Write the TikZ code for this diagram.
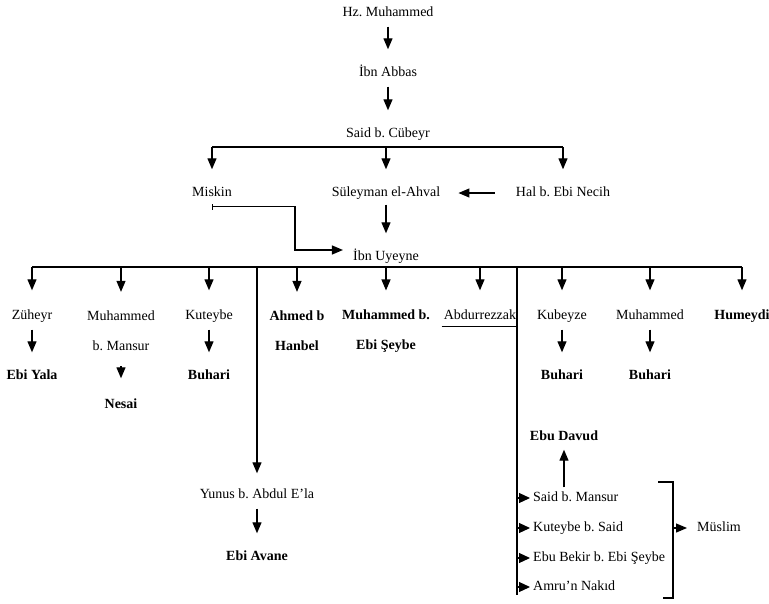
\documentclass[tikz,border=0pt]{standalone}
\usepackage{fontspec}
\setmainfont{Liberation Serif}
\usetikzlibrary{arrows.meta}
\frenchspacing

\begin{document}
\begin{tikzpicture}[x=1pt,y=-1pt,%%
  nameStyle/.style={font=\fontsize{14}{17}\selectfont,inner sep=2pt,text height=10pt,text depth=3pt},%%
  boldStyle/.style={nameStyle,font=\fontsize{14}{17}\selectfont\bfseries},%%
  twoLineStyle/.style={font=\fontsize{14}{30}\selectfont,align=center,inner sep=2pt},%%
  twoLineBoldStyle/.style={twoLineStyle,font=\fontsize{14}{30}\selectfont\bfseries},%%
  lineStyle/.style={-,line width=1.2pt},%%
  arrowStyle/.style={lineStyle,-{Triangle[length=11pt,width=9pt]},shorten <=5pt,shorten >=15pt},%%
  tipStyle/.style={lineStyle,-{Triangle[length=11pt,width=10pt]},shorten >=1pt}%%
]
%%
\pgfmathsetmacro{\rowA}{316}
\pgfmathsetmacro{\rowB}{376}
\pgfmathsetmacro{\listX}{531}
%%
\coordinate (lowerLeft) at (0,0);
\coordinate (upperRight) at (769,603);
\useasboundingbox (lowerLeft) rectangle (upperRight);
%%
%% The chain from the top.
\node[nameStyle] (hzMuhammed) at (388,13) {Hz. Muhammed};
\node[nameStyle] (ibnAbbas) at (388,73) {İbn Abbas};
\node[nameStyle] (saidCubeyr) at (388,134) {Said b. Cübeyr};
\draw[arrowStyle] (hzMuhammed) -- (ibnAbbas);
\draw[arrowStyle] (ibnAbbas) -- (saidCubeyr);
%% Students of Said b. Cübeyr.
\coordinate (topBus) at (388,147);
\node[nameStyle] (miskin) at (212,193) {Miskin};
\node[nameStyle] (suleyman) at (386,193) {Süleyman el-Ahval};
\node[nameStyle] (halNecih) at (563,193) {Hal b. Ebi Necih};
\draw[lineStyle] (miskin |- topBus) -- (halNecih |- topBus);
\foreach \n in {miskin,suleyman,halNecih}
  \draw[arrowStyle,shorten <=0pt] (\n |- topBus) -- (\n);
\draw[arrowStyle,shorten <=19pt,shorten >=16pt] (halNecih) -- (suleyman);
%% Ibn Uyeyne.
\node[nameStyle] (ibnUyeyne) at (386,257) {İbn Uyeyne};
\coordinate (miskinBend) at (295,250);
\draw[lineStyle,{Bar[width=6pt]}-{Triangle[length=11pt,width=9pt]},shorten >=8pt]
  ([yshift=-5pt]miskin.south) -| (miskinBend) -- (miskinBend -| ibnUyeyne.west);
\draw[arrowStyle,shorten <=3pt] (suleyman) -- (ibnUyeyne);
%%
%% Students of Ibn Uyeyne.
\coordinate (bottomBus) at (385,267);
\node[nameStyle] (zuheyr) at (32,\rowA) {Züheyr};
\node[twoLineStyle] (muhammedMansur) at (121,331) {Muhammed\\b. Mansur};
\node[nameStyle] (kuteybe) at (209,\rowA) {Kuteybe};
\node[twoLineBoldStyle] (ahmedHanbel) at (297,331) {Ahmed b\\Hanbel};
\node[twoLineBoldStyle] (muhammedSeybe) at (386,331) {Muhammed b.\\Ebi Şeybe};
\node[nameStyle] (abdurrezzak) at (480,\rowA) {Abdurrezzak};
\node[nameStyle] (kubeyze) at (562,\rowA) {Kubeyze};
\node[nameStyle] (muhammedBuhari) at (650,\rowA) {Muhammed};
\node[boldStyle] (humeydi) at (742,\rowA) {Humeydi};
\draw[lineStyle] (zuheyr |- bottomBus) -- (humeydi |- bottomBus);
\foreach \n in {zuheyr,muhammedMansur,kuteybe,ahmedHanbel,muhammedSeybe,abdurrezzak,kubeyze,muhammedBuhari,humeydi}
  \draw[arrowStyle,shorten <=0pt,shorten >=17pt] (\n |- bottomBus) -- (\n);
%%
%% Next generation.
\node[boldStyle] (ebiYala) at (32,\rowB) {Ebi Yala};
\node[boldStyle] (nesai) at (121,405) {Nesai};
\node[boldStyle] (buhariA) at (209,\rowB) {Buhari};
\node[boldStyle] (buhariB) at (562,\rowB) {Buhari};
\node[boldStyle] (buhariC) at (650,\rowB) {Buhari};
\draw[arrowStyle] (zuheyr) -- (ebiYala);
\draw[arrowStyle,shorten <=13pt,shorten >=18pt] (muhammedMansur) -- (nesai);
\draw[arrowStyle] (kuteybe) -- (buhariA);
\draw[arrowStyle] (kubeyze) -- (buhariB);
\draw[arrowStyle] (muhammedBuhari) -- (buhariC);
%%
%% Long line to Yunus b. Abdul E'la.
\node[nameStyle] (yunus) at (257,495) {Yunus b. Abdul E'la};
\node[boldStyle] (ebiAvane) at (257,557) {Ebi Avane};
\draw[arrowStyle,shorten <=0pt,shorten >=13pt] (yunus |- bottomBus) -- (yunus);
\draw[arrowStyle] (yunus) -- (ebiAvane);
%%
%% Long line to the list of Müslim.
\coordinate (rightTop) at (517,267);
\coordinate (rightBottom) at (517,595);
\draw[lineStyle] (rightTop) -- (rightBottom);
\draw[lineStyle] ([yshift=-2pt]abdurrezzak.south west) -- ([yshift=-2pt]abdurrezzak.south west -| rightTop);
\node[nameStyle,anchor=west] (saidMansur) at (\listX,498) {Said b. Mansur};
\node[nameStyle,anchor=west] (kuteybeSaid) at (\listX,528) {Kuteybe b. Said};
\node[nameStyle,anchor=west] (ebuBekir) at (\listX,558) {Ebu Bekir b. Ebi Şeybe};
\node[nameStyle,anchor=west] (amruNakid) at (\listX,587) {Amru'n Nakıd};
\foreach \n in {saidMansur,kuteybeSaid,ebuBekir,amruNakid}
  \draw[tipStyle] (\n.west -| rightTop) -- (\n.west);
\node[boldStyle] (ebuDavud) at (564,437) {Ebu Davud};
\draw[arrowStyle,shorten <=2pt,shorten >=4pt] (saidMansur.north -| ebuDavud) -- (ebuDavud);
%% Bracket round the list.
\coordinate (bracketTopLeft) at (658,482);
\coordinate (bracketTopRight) at (673,482);
\coordinate (bracketBottomRight) at (673,598);
\coordinate (bracketBottomLeft) at (663,598);
\coordinate (bracketMid) at (673,528);
\draw[lineStyle] (bracketTopLeft) -- (bracketTopRight) -- (bracketBottomRight) -- (bracketBottomLeft);
\node[nameStyle] (muslim) at (719,528) {Müslim};
\draw[arrowStyle,shorten <=0pt,shorten >=8pt] (bracketMid) -- (muslim);
\end{tikzpicture}
\end{document}
